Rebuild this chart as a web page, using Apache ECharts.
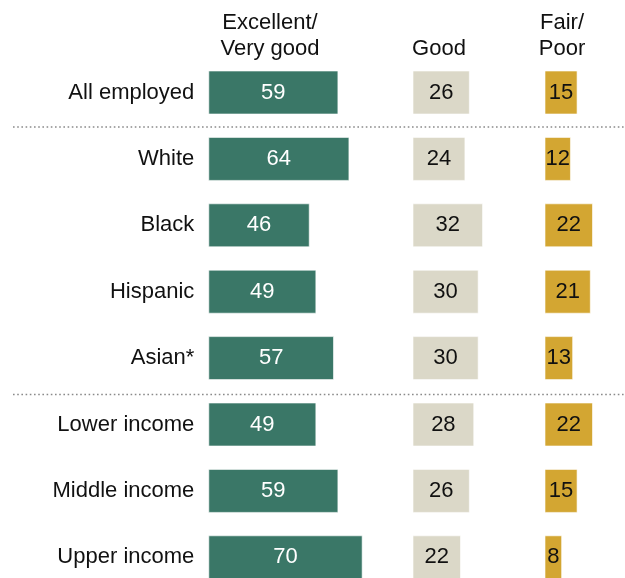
<!DOCTYPE html>
<html>
<head>
<meta charset="utf-8">
<style>
  html, body { margin: 0; padding: 0; background: #fff; }
  #chart { width: 625px; height: 578px; }
</style>
<script src="https://cdn.jsdelivr.net/npm/echarts@6/dist/echarts.min.js"></script>
</head>
<body>
<div id="chart"></div>
<script>
// Groups shown as rows, top to bottom
const categories = ['All employed', 'White', 'Black', 'Hispanic', 'Asian*',
  'Lower income', 'Middle income', 'Upper income'];
// Share rating each group, in percent
const excellentVeryGood = [59, 64, 46, 49, 57, 49, 59, 70];
const good = [26, 24, 32, 30, 30, 28, 26, 22];
const fairPoor = [15, 12, 22, 21, 13, 22, 15, 8];
const headers = [['Excellent/', 'Very good'], ['Good'], ['Fair/', 'Poor']];

const FONT = '"Liberation Sans", Arial, sans-serif';
const FS = 22;
const PX_PER_UNIT = 2.205;
const TOP = 59.3, ROW = 66.4;

const cols = [
  { data: excellentVeryGood, left: 208.3, max: 80, color: '#3a7767', text: '#ffffff', head: 270 },
  { data: good, left: 412.5, max: 40, color: '#dbd8c8', text: '#111111', head: 439 },
  { data: fairPoor, left: 544.5, max: 30, color: '#d3a632', text: '#111111', head: 562 }
];

const chart = echarts.init(document.getElementById('chart'), null, { renderer: 'canvas' });

const grid = cols.map(c => ({
  left: c.left, top: TOP, width: c.max * PX_PER_UNIT, height: ROW * categories.length,
  outerBoundsMode: 'none', containLabel: false
}));
const xAxis = cols.map((c, i) => ({
  type: 'value', gridIndex: i, min: 0, max: c.max, show: false
}));
const yAxis = cols.map((c, i) => ({
  type: 'category', gridIndex: i, data: categories, inverse: true,
  axisLine: { show: false }, axisTick: { show: false }, splitLine: { show: false },
  axisLabel: {
    show: i === 0, margin: 14, fontFamily: FONT, fontSize: FS, color: '#111'
  }
}));
const series = cols.map((c, i) => ({
  type: 'bar', name: headers[i].join(' '),
  xAxisIndex: i, yAxisIndex: i, data: c.data, barWidth: 44,
  itemStyle: { color: c.color, borderColor: 'rgba(255,255,255,0.6)', borderWidth: 1 },
  label: {
    show: true, position: 'inside', fontFamily: FONT, fontSize: FS, color: c.text
  },
  silent: true, animation: false
}));

// Column headings, bottom line aligned across columns
const graphic = [];
cols.forEach((c, i) => {
  const lines = headers[i];
  lines.forEach((t, k) => {
    const row = lines.length - 1 - k;
    graphic.push({
      type: 'text', x: c.head, y: 49 - row * 26,
      style: {
        text: t, fontFamily: FONT, fontSize: FS, fill: '#111',
        align: 'center', verticalAlign: 'middle'
      }
    });
  });
});
// Dotted separators between group blocks
[127, 394.5].forEach(y => {
  graphic.push({
    type: 'line', shape: { x1: 13, y1: y, x2: 625, y2: y },
    style: { stroke: '#8a8a8a', lineWidth: 1.6, lineDash: [1.6, 2.6] }
  });
});

chart.setOption({
  animation: false,
  grid, xAxis, yAxis, series, graphic
});
</script>
</body>
</html>
